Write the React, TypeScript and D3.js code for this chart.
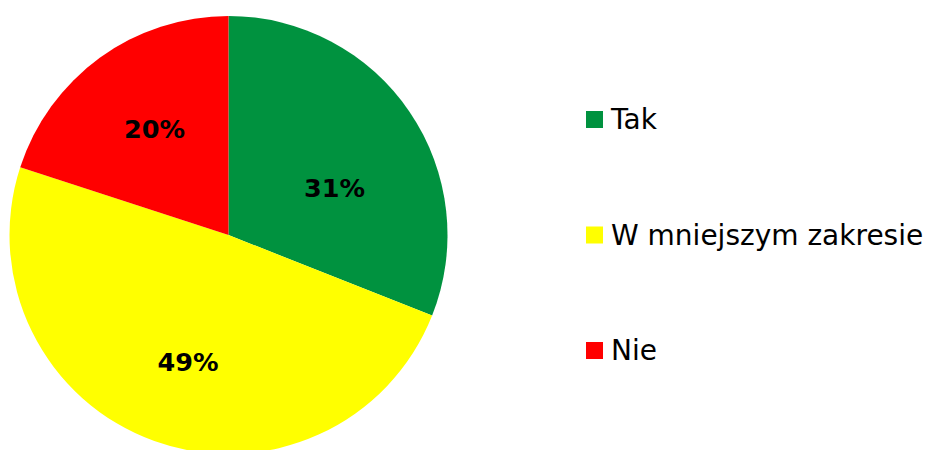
import React from "react";
import * as d3 from "d3";

const categories = ["Tak", "W mniejszym zakresie", "Nie"];
const values = [31, 49, 20];
const colors = ["#00923F", "#FFFF00", "#FF0000"];

const W = 929;
const H = 450;

export default function App() {
  const cx = 228.5;
  const cy = 235;
  const r = 219;
  const pie = d3.pie<number>().sort(null).value((d) => d);
  const arcs = pie(values);
  const arc = d3.arc<d3.PieArcDatum<number>>().innerRadius(0).outerRadius(r);
  const labelPos = [
    [106, -47],
    [-40.5, 127],
    [-74, -106],
  ];
  const legendY = d3.scalePoint<string>().domain(categories).range([119.5, 350.5]);
  return (
    <svg
      width={W}
      height={H}
      style={{ position: "absolute", left: 0, top: 0, background: "#fff" }}
      fontFamily="DejaVu Sans, sans-serif"
    >
      <g transform={`translate(${cx},${cy})`}>
        {arcs.map((a, i) => (
          <path key={i} d={arc(a) || ""} fill={colors[i]} />
        ))}
        {arcs.map((a, i) => {
          const [x, y] = labelPos[i];
          return (
            <text
              key={"l" + i}
              x={x}
              y={y}
              textAnchor="middle"
              dominantBaseline="central"
              fontWeight="bold"
              fontSize={25.5}
              fill="#000"
            >
              {`${values[i]}%`}
            </text>
          );
        })}
      </g>
      {categories.map((c, i) => {
        const y = legendY(c) as number;
        return (
          <g key={c}>
            <rect x={586} y={y - 8.5} width={17} height={17} fill={colors[i]} />
            <text x={611} y={y} dominantBaseline="central" fontSize={28} fill="#000">
              {c}
            </text>
          </g>
        );
      })}
    </svg>
  );
}
